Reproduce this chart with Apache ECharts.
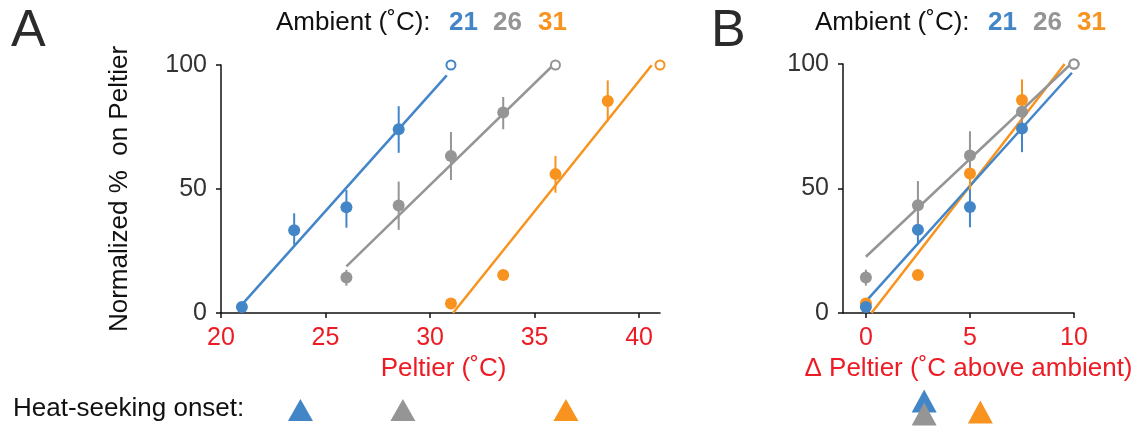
<!DOCTYPE html>
<html>
<head>
<meta charset="utf-8">
<script src="https://cdn.jsdelivr.net/npm/echarts@6/dist/echarts.min.js"></script>
<style>
  html, body { margin: 0; padding: 0; background: #fff; }
  #chart { width: 1145px; height: 427px; }
</style>
</head>
<body>
<div id="chart"></div>
<script>
// ambient temperatures (deg C)
const ambients = ['21', '26', '31'];

// panel A: Peltier temperature vs normalized % on Peltier
const peltier21 = [21, 23.5, 26, 28.5];
const pct21     = [2.4, 33.4, 42.6, 74.1];
const errLo21   = [null, 27.5, 34.4, 64.6];
const errHi21   = [null, 40.2, 49.6, 83.4];

const peltier26 = [26, 28.5, 31, 33.5];
const pct26     = [14.3, 43.3, 63.3, 80.8];
const errLo26   = [11.0, 33.5, 53.6, 74.1];
const errHi26   = [17.4, 53.0, 73.0, 87.1];

const peltier31 = [31, 33.5, 36, 38.5];
const pct31     = [3.8, 15.3, 56.0, 85.5];
const errLo31   = [null, null, 48.5, 77.3];
const errHi31   = [null, null, 63.3, 93.8];

// panel B: degrees above ambient
const delta = [0, 2.5, 5, 7.5];

// saturation points (open circles)
const satA = [31, 36, 41];
const satB = [10, 10, 10];
const satPct = 100;

// linear fits, [x, y] ends
const fitA21 = [[21, 3.4], [30.8, 95.8]];
const fitA26 = [[26.0, 18.8], [35.8, 99.2]];
const fitA31 = [[31.1, 0], [40.6, 99.9]];
const fitB21 = [[0, 4.7], [9.9, 96.5]];
const fitB26 = [[0, 22.6], [9.8, 99.6]];
const fitB31 = [[0.27, 0], [9.55, 100]];

// heat-seeking onset (Peltier deg C, and deg C above ambient)
const onsetA = [23.8, 28.7, 36.5];
const onsetB = [2.8, 2.8, 5.5];

const xTicksA = [20, 25, 30, 35, 40];
const xTicksB = [0, 5, 10];
const yTicks = [0, 50, 100];

const COLORS = ['#4286c8', '#959595', '#f7931e'];
const RED = '#ed1c24';
const FONT = '"Liberation Sans", Arial, sans-serif';
// vertical nudge of the stacked onset triangles in panel B
const B_TRI_SHIFT = [-9, 4, 2];

const groups = [
  { x: peltier21, y: pct21, lo: errLo21, hi: errHi21, fitA: fitA21, fitB: fitB21 },
  { x: peltier26, y: pct26, lo: errLo26, hi: errHi26, fitA: fitA26, fitB: fitB26 },
  { x: peltier31, y: pct31, lo: errLo31, hi: errHi31, fitA: fitA31, fitB: fitB31 }
];

function errRender(params, api) {
  const a = api.coord([api.value(0), api.value(1)]);
  const b = api.coord([api.value(0), api.value(2)]);
  return {
    type: 'line',
    shape: { x1: a[0], y1: a[1], x2: b[0], y2: b[1] },
    style: { stroke: api.visual('color'), lineWidth: 2 }
  };
}

function valueAxis(gridIndex, min, max, ticks, labelColor, margin, extra) {
  return Object.assign({
    type: 'value', gridIndex: gridIndex, min: min, max: max,
    splitLine: { show: false },
    axisLine: { show: true, onZero: false, lineStyle: { color: '#111', width: 1.5 } },
    axisTick: { show: true, length: 5, inside: false, customValues: ticks, lineStyle: { color: '#111', width: 1.5 } },
    axisLabel: { customValues: ticks, color: labelColor, fontSize: 25, fontFamily: FONT, margin: margin }
  }, extra || {});
}

function hiddenAxis(gridIndex, min, max) {
  return { type: 'value', gridIndex: gridIndex, min: min, max: max, show: false };
}

const series = [];
// draw order: orange, blue, gray (gray open circle ends on top in B)
[2, 0, 1].forEach(function (i) {
  const g = groups[i], col = COLORS[i];
  const ptsA = g.x.map((v, k) => [v, g.y[k]]);
  const ptsB = delta.map((v, k) => [v, g.y[k]]);
  const errA = [], errB = [];
  g.x.forEach((v, k) => {
    if (g.lo[k] != null) {
      errA.push([v, g.lo[k], g.hi[k]]);
      errB.push([delta[k], g.lo[k], g.hi[k]]);
    }
  });
  [[0, ptsA, errA, g.fitA, satA[i]], [1, ptsB, errB, g.fitB, satB[i]]].forEach(function (p) {
    const ax = p[0];
    series.push({
      type: 'line', xAxisIndex: ax, yAxisIndex: ax, data: p[3], symbol: 'none',
      lineStyle: { color: col, width: 2.5 }, z: 2, silent: true
    });
    series.push({
      type: 'custom', xAxisIndex: ax, yAxisIndex: ax, data: p[2], renderItem: errRender,
      itemStyle: { color: col }, z: 3, silent: true
    });
    series.push({
      type: 'scatter', xAxisIndex: ax, yAxisIndex: ax, data: p[1], symbol: 'circle', symbolSize: 12,
      itemStyle: { color: col, opacity: 1 }, z: 4, silent: true
    });
    series.push({
      type: 'scatter', xAxisIndex: ax, yAxisIndex: ax, data: [[p[4], satPct]], symbol: 'circle', symbolSize: 9,
      itemStyle: { color: '#fff', borderColor: col, borderWidth: 2, opacity: 1 }, z: 5, silent: true
    });
  });
  series.push({
    type: 'scatter', xAxisIndex: 2, yAxisIndex: 2, data: [[onsetA[i], 0]], symbol: 'triangle',
    symbolSize: [25, 22], itemStyle: { color: col, opacity: 1 }, silent: true
  });
  series.push({
    type: 'scatter', xAxisIndex: 3, yAxisIndex: 3, data: [[onsetB[i], 0]], symbol: 'triangle',
    symbolSize: [25, 23], symbolOffset: [0, B_TRI_SHIFT[i]],
    itemStyle: { color: col, opacity: 1 }, z: i === 0 ? 2 : 3, silent: true
  });
});

function ambientTitle(x0, xs) {
  const els = [{
    type: 'text', left: x0, top: 10,
    style: { text: 'Ambient (˚C):', fill: '#111', font: '26px ' + FONT }
  }];
  ambients.forEach(function (a, i) {
    els.push({
      type: 'text', left: xs[i], top: 10,
      style: { text: a, fill: COLORS[i], font: 'bold 26px ' + FONT }
    });
  });
  return els;
}

const option = {
  animation: false,
  backgroundColor: '#fff',
  grid: [
    { left: 221, top: 65, width: 439, height: 248 },
    { left: 843, top: 64, width: 231, height: 249 },
    { left: 221, top: 399, width: 439, height: 22 },
    { left: 843, top: 399, width: 231, height: 22 }
  ],
  xAxis: [
    valueAxis(0, 20, 41, xTicksA, RED, 13, {
      name: 'Peltier (˚C)', nameLocation: 'middle', nameGap: 41,
      nameTextStyle: { color: RED, fontSize: 26, fontFamily: FONT, padding: [0, 0, 0, 6] }
    }),
    valueAxis(1, -1.1, 10, xTicksB, RED, 13, {
      name: 'Δ Peltier (˚C above ambient)', nameLocation: 'middle', nameGap: 41,
      nameTextStyle: { color: RED, fontSize: 26, fontFamily: FONT, padding: [0, 0, 0, 20] }
    }),
    hiddenAxis(2, 20, 41),
    hiddenAxis(3, -1.1, 10)
  ],
  yAxis: [
    valueAxis(0, 0, 100, yTicks, '#333', 14, {
      name: 'Normalized %  on Peltier', nameLocation: 'middle', nameGap: 88,
      nameTextStyle: { color: '#111', fontSize: 26, fontFamily: FONT }
    }),
    valueAxis(1, 0, 100, yTicks, '#333', 14),
    hiddenAxis(2, -1, 1),
    hiddenAxis(3, -1, 1)
  ],
  graphic: [
    { type: 'text', left: 11, top: 6, style: { text: 'A', fill: '#2b2b2b', font: '52px ' + FONT } },
    { type: 'text', left: 711, top: 6, style: { text: 'B', fill: '#2b2b2b', font: '52px ' + FONT } },
    { type: 'text', left: 13, top: 396, style: { text: 'Heat-seeking onset:', fill: '#111', font: '26px ' + FONT } }
  ].concat(ambientTitle(276, [449, 493, 538]), ambientTitle(815, [988, 1033, 1077])),
  series: series
};

const chart = echarts.init(document.getElementById('chart'));
chart.setOption(option);
</script>
</body>
</html>
